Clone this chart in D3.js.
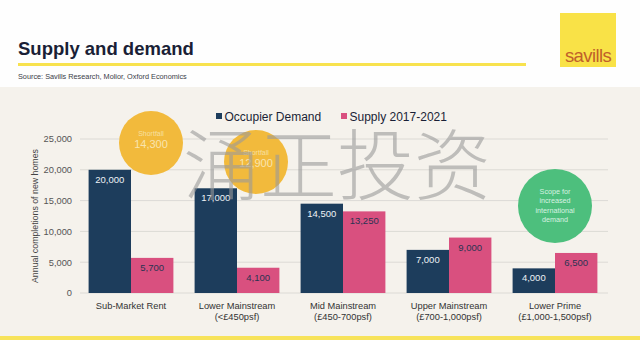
<!DOCTYPE html>
<html><head><meta charset="utf-8">
<script src="https://cdn.jsdelivr.net/npm/d3@7"></script>
<style>
html,body{margin:0;padding:0;background:#fff;}
svg{display:block;font-family:"Liberation Sans",Arial,sans-serif;}
</style></head>
<body><svg id="c" width="640" height="340"></svg>
<script>
const categories = [["Sub-Market Rent"],["Lower Mainstream","(<£450psf)"],["Mid Mainstream","(£450-700psf)"],["Upper Mainstream","(£700-1,000psf)"],["Lower Prime","(£1,000-1,500psf)"]];
const demand = [20000, 17000, 14500, 7000, 4000];
const supply = [5700, 4100, 13250, 9000, 6500];
const seriesNames = ["Occupier Demand", "Supply 2017-2021"];
const yTicks = [0, 5000, 10000, 15000, 20000, 25000];
const shortfalls = [{cat:0, label:"Shortfall", value:"14,300"}, {cat:1, label:"Shortfall", value:"12,900"}];
const scopeLines = ["Scope for","increased","international","demand"];

const svg = d3.select("#c");
const W = 640, H = 340;
const navy = "#1d3d5c", pink = "#d9507f";

// backgrounds
svg.append("rect").attr("x",0).attr("y",0).attr("width",W).attr("height",87).attr("fill","#fefefe");
svg.append("rect").attr("x",0).attr("y",87).attr("width",W).attr("height",250).attr("fill","#f5f2ec");
svg.append("rect").attr("x",0).attr("y",336).attr("width",W).attr("height",4).attr("fill","#f7e35a");

// header
svg.append("text").attr("x",18).attr("y",55).attr("font-size",18.5).attr("font-weight","bold").attr("fill","#1a1f36").text("Supply and demand");
svg.append("rect").attr("x",18).attr("y",63).attr("width",508).attr("height",3).attr("fill","#f8e24e");
svg.append("text").attr("x",18).attr("y",79).attr("font-size",7.3).attr("fill","#3a3d48").text("Source: Savills Research, Molior, Oxford Economics");
// logo
svg.append("rect").attr("x",560).attr("y",13).attr("width",56).attr("height",54).attr("fill","#f9e247");
svg.append("text").attr("x",588).attr("y",62).attr("text-anchor","middle").attr("font-size",18.5).attr("fill","#c0602a").attr("letter-spacing",-0.6).text("savills");

// scales
const x0 = d3.scaleBand().domain(d3.range(categories.length)).range([78,608]).paddingInner(0.2).paddingOuter(0.1);
const x1 = d3.scaleBand().domain([0,1]).range([0,x0.bandwidth()]);
const y = d3.scaleLinear().domain([0,25000]).range([293,139]);

// gridlines
const g = svg.append("g");
g.selectAll("line.grid").data(yTicks).join("line")
  .attr("x1",80).attr("x2",608).attr("y1",d=>y(d)).attr("y2",d=>y(d))
  .attr("stroke","#dcdad5").attr("stroke-width",1);
// y axis labels
const yAxis = d3.axisLeft(y).tickValues(yTicks).tickFormat(d3.format(",")).tickSize(0).tickPadding(0);
const ya = svg.append("g").attr("transform","translate(72,0)").call(yAxis);
ya.select(".domain").remove();
ya.selectAll("text").attr("font-size",9.3).attr("fill","#555").attr("font-family","Liberation Sans, Arial, sans-serif");

svg.append("text").attr("transform","translate(38,216) rotate(-90)").attr("text-anchor","middle")
  .attr("font-size",8.8).attr("fill","#444").text("Annual completions of new homes");

// bars
const data = categories.map((c,i)=>({i, vals:[demand[i], supply[i]]}));
const groups = svg.selectAll("g.grp").data(data).join("g").attr("transform",d=>`translate(${x0(d.i)},0)`);
groups.selectAll("rect").data(d=>d.vals.map((v,k)=>({v,k}))).join("rect")
  .attr("x",d=>x1(d.k)).attr("width",x1.bandwidth())
  .attr("y",d=>y(d.v)).attr("height",d=>y(0)-y(d.v))
  .attr("fill",d=>d.k===0?navy:pink);
groups.selectAll("text.val").data(d=>d.vals.map((v,k)=>({v,k}))).join("text")
  .attr("x",d=>x1(d.k)+x1.bandwidth()/2).attr("y",d=>y(d.v)+13)
  .attr("text-anchor","middle").attr("font-size",9.5)
  .attr("fill",d=>d.k===0?"#eef2f6":"#2a3352")
  .text(d=>d3.format(",")(d.v));

// category labels
const cl = svg.selectAll("text.cat").data(categories).join("text")
  .attr("text-anchor","middle").attr("font-size",9.3).attr("fill","#333")
  .attr("x",(d,i)=>x0(i)+x0.bandwidth()/2);
cl.selectAll("tspan").data(d=>d).join("tspan")
  .attr("x",function(){return this.parentNode.getAttribute("x");})
  .attr("y",(d,j)=>309+j*10.5).text(d=>d);

// legend
const leg = [{x:216,c:navy},{x:341,c:pink}];
leg.forEach((l,k)=>{
  svg.append("rect").attr("x",l.x).attr("y",113).attr("width",6).attr("height",6).attr("fill",l.c);
  svg.append("text").attr("x",l.x+8.5).attr("y",121).attr("font-size",12).attr("fill","#1a1f36").text(seriesNames[k]);
});

// shortfall circles
const sc = [{cx:151,cy:143},{cx:256,cy:162}];
shortfalls.forEach((s,k)=>{
  svg.append("circle").attr("cx",sc[k].cx).attr("cy",sc[k].cy).attr("r",32).attr("fill","#f2ba3c");
  svg.append("text").attr("x",sc[k].cx).attr("y",sc[k].cy-7).attr("text-anchor","middle").attr("font-size",7).attr("fill","#f7e0a0").text(s.label);
  svg.append("text").attr("x",sc[k].cx).attr("y",sc[k].cy+5).attr("text-anchor","middle").attr("font-size",11).attr("fill","#f9e4ae").text(s.value);
});
// scope circle
svg.append("circle").attr("cx",555).attr("cy",206).attr("r",37).attr("fill","#4dbf7d");
svg.selectAll("text.scope").data(scopeLines).join("text")
  .attr("x",555).attr("y",(d,i)=>194+i*9.3).attr("text-anchor","middle").attr("font-size",7.2).attr("fill","#d8f2e2").text(d=>d);

// watermark
svg.append("text").attr("x",337).attr("y",194).attr("text-anchor","middle")
  .attr("font-family","Noto Sans CJK SC").attr("font-weight",300).attr("font-size",77)
  .attr("fill","#999").attr("fill-opacity",0.6).text("涌正投资");
</script></body></html>
